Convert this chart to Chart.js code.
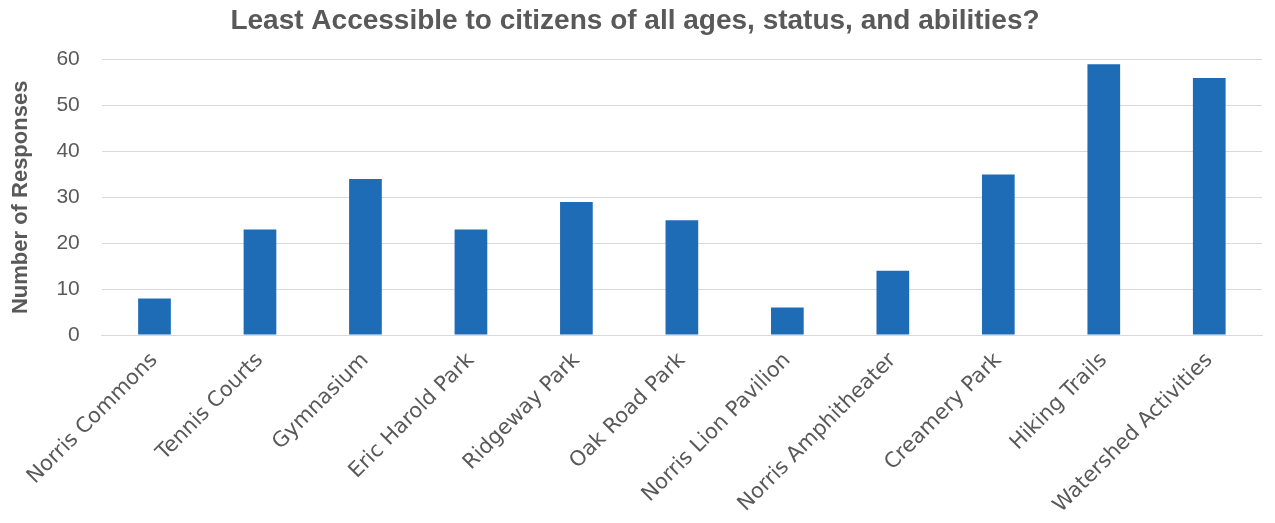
<!DOCTYPE html>
<html>
<head>
<meta charset="utf-8">
<script src="https://cdn.jsdelivr.net/npm/chart.js@4"></script>
<style>
  html, body { margin: 0; padding: 0; background: #fff; }
  #wrap { width: 1275px; height: 523px; }
</style>
</head>
<body>
<div id="wrap"><canvas id="chart"></canvas></div>
<script>
const categories = [
  'Norris Commons', 'Tennis Courts', 'Gymnasium', 'Eric Harold Park',
  'Ridgeway Park', 'Oak Road Park', 'Norris Lion Pavilion',
  'Norris Amphitheater', 'Creamery Park', 'Hiking Trails', 'Watershed Activities'
];
const responses = [8, 23, 34, 23, 29, 25, 6, 14, 35, 59, 56];
const yTicks = [0, 10, 20, 30, 40, 50, 60];

const chartConfig = {
  type: 'bar',
  data: {
    labels: categories,
    datasets: [
      {
        label: 'Responses',
        data: responses,
        backgroundColor: '#1f6cb6',
        barPercentage: 0.31,
        categoryPercentage: 1,
      },
    ],
  },
  options: {
    responsive: true,
    maintainAspectRatio: false,
    animation: false,
    layout: { padding: { left: 8, right: 13, top: 0, bottom: 0 } },
    plugins: {
      legend: { display: false },
      tooltip: { enabled: false },
      title: {
        display: true,
        text: 'Least Accessible to citizens of all ages, status, and abilities?',
        color: '#595959',
        font: { family: 'Arial, Liberation Sans', size: 28, weight: 'bold' },
        padding: { top: 4, bottom: 22 },
      },
    },
    scales: {
      x: {
        grid: { display: false },
        border: { color: '#d9d9d9' },
        ticks: {
          color: '#595959',
          font: { family: 'DejaVu Sans', size: 21 },
          maxRotation: 45,
          minRotation: 45,
          padding: 5,
        },
      },
      y: {
        min: 0,
        max: 60,
        afterBuildTicks: (axis) => {
          axis.ticks = yTicks.map((v) => ({ value: v }));
        },
        grid: { color: '#d9d9d9', drawTicks: false },
        border: { display: false },
        ticks: {
          color: '#595959',
          font: { family: 'Arial, Liberation Sans', size: 21 },
          padding: 22,
        },
        title: {
          display: true,
          text: 'Number of Responses',
          color: '#595959',
          font: { family: 'Arial, Liberation Sans', size: 22, weight: 'bold' },
          padding: { top: 0, bottom: 0 },
        },
      },
    },
  },
};

new Chart(document.getElementById('chart'), chartConfig);
</script>
</body>
</html>
